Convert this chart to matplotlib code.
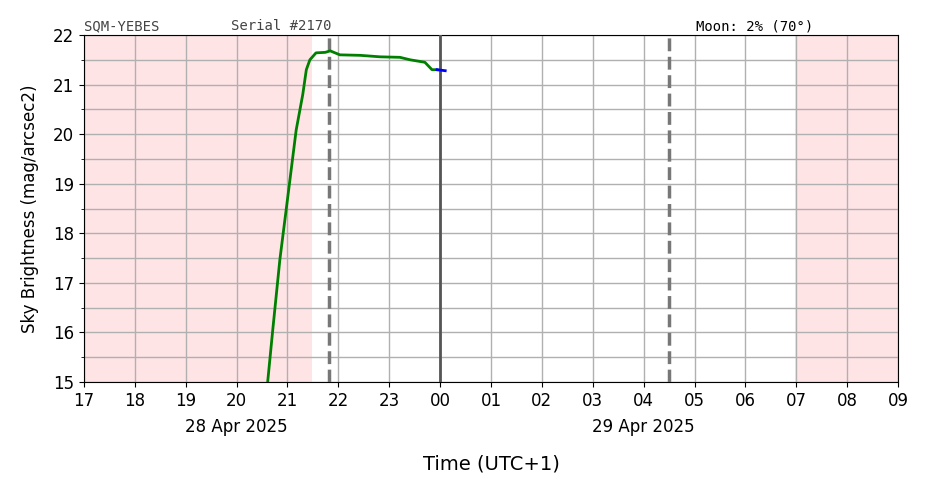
import matplotlib
matplotlib.use("Agg")
import matplotlib.pyplot as plt
import numpy as np

# hours since 28 Apr 2025 17:00 (UTC+1)
green_t = [3.61, 3.71, 3.85, 4.01, 4.17, 4.30, 4.37, 4.44, 4.56, 4.74, 4.84, 5.03, 5.43, 5.82, 6.21, 6.41, 6.70, 6.84, 6.94]
green_v = [15.0, 16.05, 17.47, 18.77, 20.08, 20.8, 21.3, 21.5, 21.64, 21.65, 21.68, 21.6, 21.59, 21.56, 21.55, 21.5, 21.45, 21.3, 21.3]
blue_t = [6.94, 7.10]
blue_v = [21.30, 21.28]
night_shade = [(0.0, 4.48), (13.97, 16.0)]
twilight_lines = [4.81, 11.49]
midnight = 7.0
tick_labels = ["17","18","19","20","21","22","23","00","01","02","03","04","05","06","07","08","09"]

fig = plt.figure(figsize=(9.26, 4.87), dpi=100)
ax = fig.add_axes([0.0907, 0.2156, 0.8791, 0.7125])
for a, b in night_shade:
    ax.axvspan(a, b, color="#ffe4e6", zorder=0, lw=0)
for x in twilight_lines:
    ax.axvline(x, color="#777777", ls="--", lw=2.5, zorder=3)
ax.axvline(midnight, color="#555555", lw=2, zorder=3)
ax.plot(green_t, green_v, color="green", lw=2, zorder=4)
ax.plot(blue_t, blue_v, color="blue", lw=2, zorder=4)
ax.set_xlim(0, 16)
ax.set_ylim(15, 22)
ax.set_xticks(range(17))
ax.set_xticklabels(tick_labels, fontsize=12)
ax.set_yticks(range(15, 23))
ax.set_yticks(np.arange(15.5, 22, 1), minor=True)
ax.tick_params(axis="y", labelsize=12)
ax.grid(True, which="both", color="#b0b0b0", lw=1, zorder=1)
ax.set_axisbelow(True)
ax.set_ylabel("Sky Brightness (mag/arcsec2)", fontsize=12, labelpad=10)
ax.set_xlabel("Time (UTC+1)", fontsize=14, labelpad=32)
ax.text(3.0, -0.105, "28 Apr 2025", transform=ax.get_xaxis_transform(), ha="center", va="top", fontsize=12)
ax.text(11.0, -0.105, "29 Apr 2025", transform=ax.get_xaxis_transform(), ha="center", va="top", fontsize=12)
ax.text(0.0, 1.005, "SQM-YEBES", transform=ax.transAxes, family="DejaVu Sans Mono", fontsize=10, color="#444444", va="bottom")
ax.text(0.18, 1.005, "Serial #2170", transform=ax.transAxes, family="DejaVu Sans Mono", fontsize=10, color="#444444", va="bottom")
ax.text(0.752, 1.005, "Moon: 2% (70°)", transform=ax.transAxes, family="DejaVu Sans Mono", fontsize=10, color="black", va="bottom")
fig.savefig("out.png", dpi=100)
